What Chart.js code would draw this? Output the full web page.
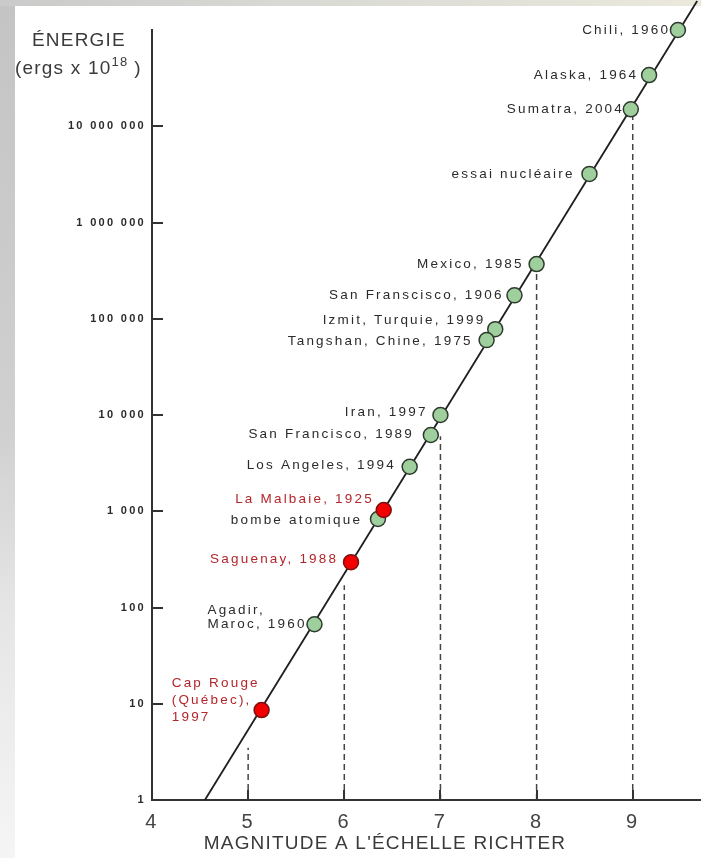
<!DOCTYPE html>
<html lang="fr">
<head>
<meta charset="utf-8">
<title>Énergie libérée et magnitude des séismes</title>
<script src="https://cdn.jsdelivr.net/npm/chart.js@4/dist/chart.umd.min.js"></script>
<style>
  html, body { margin: 0; padding: 0; }
  body {
    width: 701px;
    height: 858px;
    position: relative;
    overflow: hidden;
    background: linear-gradient(to bottom, #c4c4c4 0%, #d0d0d0 50%, #e6e6e6 72%, #f5f5f5 100%);
  }
  .top-strip {
    position: absolute; left: 0; top: 0; width: 701px; height: 6px;
    background: linear-gradient(to right, #cacaca, #d8d8d4 40%, #ebe9dc);
  }
  .panel { position: absolute; left: 15px; top: 6px; right: 0; bottom: 0; background: #fff; }
  #richter { position: absolute; left: 0; top: 0; }
</style>
</head>
<body>
<div class="top-strip"></div>
<div class="panel"></div>
<canvas id="richter" width="701" height="858"></canvas>
<script>
// Axes
const magnitudeTicks = [4, 5, 6, 7, 8, 9];
const energyTicks = [1, 10, 100, 1000, 10000, 100000, 1000000, 10000000];

// Séismes et explosions (points verts)
const worldNames = [
  'Chili, 1960', 'Alaska, 1964', 'Sumatra, 2004', 'essai nucléaire', 'Mexico, 1985',
  'San Franscisco, 1906', 'Izmit, Turquie, 1999', 'Tangshan, Chine, 1975', 'Iran, 1997',
  'San Francisco, 1989', 'Los Angeles, 1994', 'bombe atomique', 'Agadir,\nMaroc, 1960'
];
const worldMagnitudes = [9.47, 9.17, 8.98, 8.55, 8.0, 7.77, 7.57, 7.48, 7.0, 6.9, 6.68, 6.35, 5.69];
const worldEnergies = [1.0e8, 3.4e7, 1.5e7, 3.2e6, 3.7e5, 1.75e5, 7.8e4, 6.0e4, 1.0e4, 6.2e3, 2.9e3, 830, 67];

// Séismes au Québec (points rouges)
const quebecNames = ['La Malbaie, 1925', 'Saguenay, 1988', 'Cap Rouge\n(Québec),\n1997'];
const quebecMagnitudes = [6.41, 6.07, 5.14];
const quebecEnergies = [1030, 296, 8.6];

// Droite énergie / magnitude
const trendMagnitudes = [4.55, 9.67];
const trendEnergies = [1, 2e8];

// Repères pointillés aux magnitudes entières
const guideMagnitudes = [5, 6, 7, 8, 9];
const guideEnergies = [3.5, 170, 6000, 3.7e5, 1.5e7];

// Décalage des étiquettes par rapport à leur point
const labelLayout = {
  'Chili, 1960': { gap: 10 },
  'Alaska, 1964': { gap: 13 },
  'Sumatra, 2004': { gap: 9 },
  'essai nucléaire': { gap: 17 },
  'Mexico, 1985': { gap: 15 },
  'San Franscisco, 1906': { gap: 13 },
  'Izmit, Turquie, 1999': { gap: 12, dy: -9 },
  'Tangshan, Chine, 1975': { gap: 16, dy: 1 },
  'Iran, 1997': { gap: 15, dy: -3 },
  'San Francisco, 1989': { gap: 19, dy: -1 },
  'Los Angeles, 1994': { gap: 16, dy: -1 },
  'bombe atomique': { gap: 18, dy: 1 },
  'Agadir,\nMaroc, 1960': { gap: 10, dy: -7, lineHeight: 14 },
  'La Malbaie, 1925': { gap: 12, dy: -11 },
  'Saguenay, 1988': { gap: 15, dy: -3 },
  'Cap Rouge\n(Québec),\n1997': { gap: 4, dy: -10, lineHeight: 17 }
};

const toPoints = (xs, ys) => xs.map((m, i) => ({ x: m, y: ys[i] }));
const spaced = v => String(v).replace(/\B(?=(\d{3})+(?!\d))/g, ' ');

const guideSets = guideMagnitudes.map((m, i) => ({
  data: [{ x: m, y: 1 }, { x: m, y: guideEnergies[i] }],
  borderColor: '#444',
  borderWidth: 1.5,
  borderDash: [6, 4],
  pointRadius: 0,
  showLine: true,
  order: 3
}));

function drawLabel(ctx, text, px, py, color) {
  const opts = Object.assign({ gap: 14, dy: 0, lineHeight: 16 }, labelLayout[text] || {});
  const lines = text.split('\n');
  const spacing = 2.2;
  ctx.font = '13.5px "Liberation Sans", Arial, sans-serif';
  ctx.letterSpacing = spacing + 'px';
  ctx.fillStyle = color;
  ctx.textAlign = 'left';
  ctx.textBaseline = 'middle';
  const w = Math.max(...lines.map(l => ctx.measureText(l).width - spacing));
  const left = px - opts.gap - w;
  const top = py + opts.dy - (lines.length - 1) * opts.lineHeight / 2;
  lines.forEach((l, i) => ctx.fillText(l, left, top + i * opts.lineHeight));
}

const annotations = {
  id: 'annotations',
  beforeDraw(chart) {
    // étiquettes de l'axe vertical, espacées
    chart.ctx.letterSpacing = '2.3px';
  },
  afterDraw(chart) {
    const { ctx, chartArea, scales: { x, y } } = chart;
    ctx.save();

    // graduations intérieures
    ctx.strokeStyle = '#333';
    ctx.lineWidth = 2;
    ctx.beginPath();
    energyTicks.slice(1).forEach(v => {
      const py = Math.round(y.getPixelForValue(v));
      ctx.moveTo(chartArea.left, py);
      ctx.lineTo(chartArea.left + 11, py);
    });
    magnitudeTicks.slice(1).forEach(v => {
      const px = Math.round(x.getPixelForValue(v));
      ctx.moveTo(px, chartArea.bottom);
      ctx.lineTo(px, chartArea.bottom - 10);
    });
    ctx.stroke();

    // étiquettes des points
    chart.getDatasetMeta(0).data.forEach((pt, i) => drawLabel(ctx, worldNames[i], pt.x, pt.y, '#2b2b2b'));
    chart.getDatasetMeta(1).data.forEach((pt, i) => drawLabel(ctx, quebecNames[i], pt.x, pt.y, '#b3262b'));

    // titre de l'axe vertical
    ctx.fillStyle = '#3a3a3a';
    ctx.textBaseline = 'middle';
    ctx.textAlign = 'left';
    ctx.letterSpacing = '1.2px';
    ctx.font = '19px "Liberation Sans", Arial, sans-serif';
    ctx.fillText('ÉNERGIE', 32, 41);
    ctx.fillText('(ergs x 10', 15, 69);
    let cx = 15 + ctx.measureText('(ergs x 10').width;
    ctx.font = '13px "Liberation Sans", Arial, sans-serif';
    ctx.fillText('18', cx, 62);
    cx += ctx.measureText('18').width + 6;
    ctx.font = '19px "Liberation Sans", Arial, sans-serif';
    ctx.fillText(')', cx, 69);

    // titre de l'axe horizontal
    ctx.textAlign = 'center';
    ctx.letterSpacing = '1.2px';
    ctx.fillText("MAGNITUDE A L'ÉCHELLE RICHTER", chartArea.left + 233, 844);

    ctx.restore();
  }
};

new Chart(document.getElementById('richter'), {
  type: 'scatter',
  data: {
    datasets: [
      {
        data: toPoints(worldMagnitudes, worldEnergies),
        backgroundColor: '#9fcf9c',
        borderColor: '#2f3a2f',
        borderWidth: 1.5,
        pointRadius: 7.5,
        clip: false,
        order: 1
      },
      {
        data: toPoints(quebecMagnitudes, quebecEnergies),
        backgroundColor: '#f20000',
        borderColor: '#7a1010',
        borderWidth: 1.5,
        pointRadius: 7.5,
        clip: false,
        order: 0
      },
      {
        data: toPoints(trendMagnitudes, trendEnergies),
        borderColor: '#1e1e1e',
        borderWidth: 1.8,
        pointRadius: 0,
        showLine: true,
        clip: false,
        order: 2
      },
      ...guideSets
    ]
  },
  options: {
    responsive: false,
    animation: false,
    events: [],
    layout: { autoPadding: false, padding: { top: 30, left: 0, right: 0, bottom: 0 } },
    plugins: {
      legend: { display: false },
      tooltip: { enabled: false }
    },
    scales: {
      x: {
        type: 'linear',
        min: 4,
        max: 9.71,
        afterBuildTicks: s => { s.ticks = magnitudeTicks.map(v => ({ value: v })); },
        afterFit: s => { s.height = 58; s.paddingLeft = 0; s.paddingRight = 0; },
        grid: { drawOnChartArea: false, drawTicks: false },
        border: { color: '#333', width: 2 },
        ticks: {
          padding: 10,
          color: '#444',
          font: { family: '"Liberation Sans", Arial, sans-serif', size: 20 },
          callback: v => String(v)
        }
      },
      y: {
        type: 'logarithmic',
        min: 1,
        max: 1e8,
        afterBuildTicks: s => { s.ticks = energyTicks.map(v => ({ value: v })); },
        afterFit: s => { s.width = 152; s.paddingTop = 0; s.paddingBottom = 0; },
        grid: { drawOnChartArea: false, drawTicks: false },
        border: { color: '#333', width: 2 },
        ticks: {
          padding: 6,
          color: '#2b2b2b',
          font: { family: '"Liberation Sans", Arial, sans-serif', size: 11, weight: 'bold' },
          callback: v => spaced(v)
        }
      }
    }
  },
  plugins: [annotations]
});
</script>
</body>
</html>
